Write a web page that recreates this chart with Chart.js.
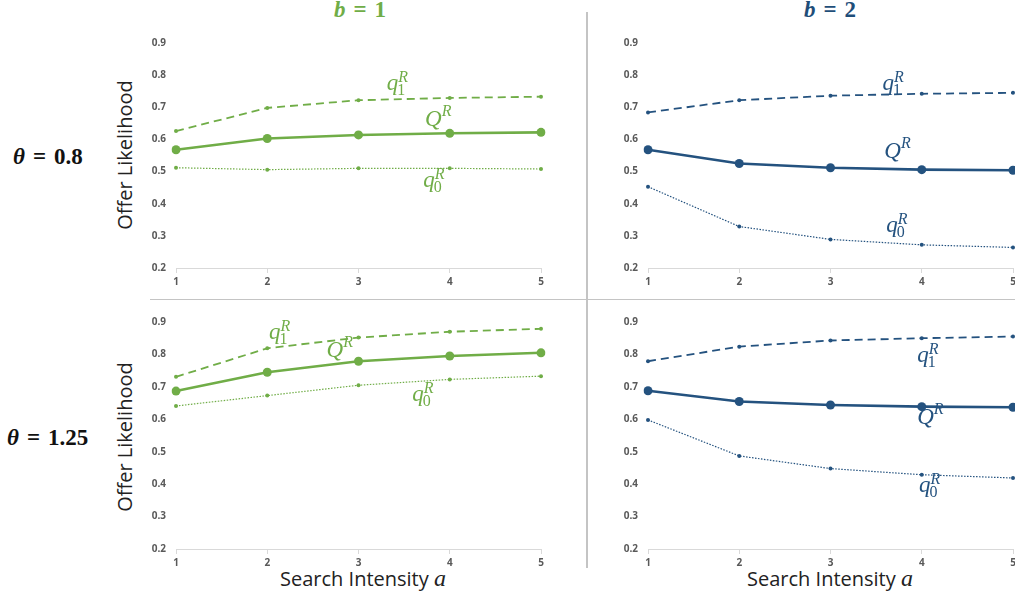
<!DOCTYPE html>
<html>
<head>
<meta charset="utf-8">
<script src="https://cdn.jsdelivr.net/npm/chart.js@4.4.0/dist/chart.umd.min.js"></script>
<style>
  body { margin: 0; width: 1015px; height: 599px; overflow: hidden; position: relative; background: #fff; }
  canvas { position: absolute; }
  .t { position: absolute; white-space: nowrap; }
  .math { font-family: "Liberation Serif", serif; font-weight: bold; font-size: 23px; line-height: 26px; }
  .math .eq { margin: 0 8px; }
  .ytitle { font-family: "Open Sans", sans-serif; font-size: 20px; color: #222; width: 200px; text-align: center; line-height: 24px; transform: rotate(-90deg); }
  .xtitle { font-family: "Open Sans", sans-serif; font-size: 20px; color: #222; width: 240px; text-align: center; line-height: 24px; }
  .xtitle i { font-family: "Liberation Serif", serif; font-size: 24px; }
  .vline { position: absolute; left: 586px; top: 12px; width: 1.5px; height: 556px; background: #c4c4c4; }
  .hline { position: absolute; left: 150px; top: 299px; width: 865px; height: 1px; background: #c4c4c4; }
</style>
</head>
<body>
<div class="vline"></div>
<div class="hline"></div>

<div class="t math" style="left:300px; top:-3px; width:120px; text-align:center; color:#70AD47;"><i>b</i><span class="eq">=</span>1</div>
<div class="t math" style="left:770px; top:-3px; width:120px; text-align:center; color:#1F4E79;"><i>b</i><span class="eq">=</span>2</div>
<div class="t math" style="left:13px; top:144px; color:#111;"><i>θ</i><span class="eq">=</span>0.8</div>
<div class="t math" style="left:7px; top:425px; color:#111;"><i>θ</i><span class="eq">=</span>1.25</div>

<div class="t ytitle" style="left:25px; top:143px;">Offer Likelihood</div>
<div class="t ytitle" style="left:25px; top:425px;">Offer Likelihood</div>
<div class="t xtitle" style="left:243px; top:566px;">Search Intensity <i>a</i></div>
<div class="t xtitle" style="left:710px; top:566px;">Search Intensity <i>a</i></div>

<canvas id="c1" width="425" height="267" style="left:136px; top:27px;"></canvas>
<canvas id="c2" width="425" height="267" style="left:608px; top:27px;"></canvas>
<canvas id="c3" width="425" height="269" style="left:136px; top:306px;"></canvas>
<canvas id="c4" width="425" height="269" style="left:608px; top:306px;"></canvas>

<script>
const xLabels = ['1', '2', '3', '4', '5'];
const yMin = 0.2, yMax = 0.9, yStep = 0.1;

// theta = 0.8, b = 1
const q1_t08_b1 = [0.626, 0.698, 0.722, 0.729, 0.733];
const Q_t08_b1  = [0.568, 0.603, 0.614, 0.619, 0.622];
const q0_t08_b1 = [0.512, 0.506, 0.510, 0.510, 0.508];
// theta = 0.8, b = 2
const q1_t08_b2 = [0.684, 0.722, 0.736, 0.742, 0.745];
const Q_t08_b2  = [0.568, 0.525, 0.512, 0.506, 0.504];
const q0_t08_b2 = [0.453, 0.329, 0.289, 0.272, 0.264];
// theta = 1.25, b = 1
const q1_t125_b1 = [0.731, 0.819, 0.852, 0.870, 0.879];
const Q_t125_b1  = [0.687, 0.745, 0.779, 0.795, 0.805];
const q0_t125_b1 = [0.641, 0.673, 0.705, 0.723, 0.733];
// theta = 1.25, b = 2
const q1_t125_b2 = [0.779, 0.824, 0.843, 0.850, 0.855];
const Q_t125_b2  = [0.688, 0.655, 0.644, 0.639, 0.637];
const q0_t125_b2 = [0.598, 0.487, 0.448, 0.429, 0.419];

const green = '#70AD47';
const navy = '#24527F';

// series name labels, placed in data coordinates (x = intensity, y = likelihood)
function labelPlugin(items, color) {
  return {
    id: 'seriesLabels',
    afterDatasetsDraw(chart) {
      const ctx = chart.ctx;
      const xs = chart.scales.x, ys = chart.scales.y;
      ctx.save();
      ctx.fillStyle = color;
      ctx.textBaseline = 'alphabetic';
      items.forEach(it => {
        const px = xs.getPixelForValue(it.x - 1);
        const py = ys.getPixelForValue(it.y);
        ctx.font = 'italic 23px "Liberation Serif"';
        ctx.fillText(it.base, px, py);
        const w = ctx.measureText(it.base).width;
        ctx.font = 'italic 16px "Liberation Serif"';
        ctx.fillText('R', px + w, py - (it.sub ? 8 : 10));
        if (it.sub) {
          ctx.font = '16px "Liberation Serif"';
          ctx.fillText(it.sub, px + w - 1, py + 5);
        }
      });
      ctx.restore();
    }
  };
}

function makeChart(id, q1, Q, q0, color, items) {
  new Chart(document.getElementById(id), {
    type: 'line',
    data: {
      labels: xLabels,
      datasets: [{
        data: q1,
        borderColor: color,
        backgroundColor: color,
        borderWidth: 1.8,
        borderDash: [8, 5],
        pointRadius: 2,
        pointBorderWidth: 0,
        tension: 0
      }, {
        data: Q,
        borderColor: color,
        backgroundColor: color,
        borderWidth: 2.6,
        pointRadius: 4.5,
        pointBorderWidth: 0,
        tension: 0
      }, {
        data: q0,
        borderColor: color,
        backgroundColor: color,
        borderWidth: 1.2,
        borderDash: [1.5, 1.5],
        pointRadius: 2,
        pointBorderWidth: 0,
        tension: 0
      }]
    },
    options: {
      responsive: false,
      animation: false,
      layout: { padding: { top: 12, right: 20, left: 0, bottom: 0 } },
      plugins: { legend: { display: false }, tooltip: { enabled: false } },
      scales: {
        x: {
          grid: { display: true, drawOnChartArea: false, drawTicks: true, tickLength: 5, color: '#d9d9d9' },
          border: { display: true, color: '#d9d9d9' },
          ticks: { color: '#595959', font: { family: 'Open Sans', size: 10, weight: 'bold' }, padding: 3, maxRotation: 0 },
          afterFit(scale) { scale.height = 26; }
        },
        y: {
          min: yMin,
          max: yMax,
          grid: { display: false, drawTicks: false },
          border: { display: false },
          ticks: {
            stepSize: yStep,
            color: '#595959',
            font: { family: 'Open Sans', size: 10, weight: 'bold' },
            padding: 10,
            callback: v => v.toFixed(1)
          },
          afterFit(scale) { scale.width = 40; }
        }
      }
    },
    plugins: [labelPlugin(items, color)]
  });
}

makeChart('c1', q1_t08_b1, Q_t08_b1, q0_t08_b1, green, [
  { base: 'q', sub: '1', x: 3.31, y: 0.755 },
  { base: 'Q', x: 3.73, y: 0.642 },
  { base: 'q', sub: '0', x: 3.71, y: 0.452 }
]);
makeChart('c2', q1_t08_b2, Q_t08_b2, q0_t08_b2, navy, [
  { base: 'q', sub: '1', x: 3.57, y: 0.755 },
  { base: 'Q', x: 3.59, y: 0.541 },
  { base: 'q', sub: '0', x: 3.61, y: 0.312 }
]);
makeChart('c3', q1_t125_b1, Q_t125_b1, q0_t125_b1, green, [
  { base: 'q', sub: '1', x: 2.02, y: 0.847 },
  { base: 'Q', x: 2.65, y: 0.792 },
  { base: 'q', sub: '0', x: 3.59, y: 0.656 }
]);
makeChart('c4', q1_t125_b2, Q_t125_b2, q0_t125_b2, navy, [
  { base: 'q', sub: '1', x: 3.95, y: 0.777 },
  { base: 'Q', x: 3.95, y: 0.584 },
  { base: 'q', sub: '0', x: 3.97, y: 0.376 }
]);
</script>
</body>
</html>
